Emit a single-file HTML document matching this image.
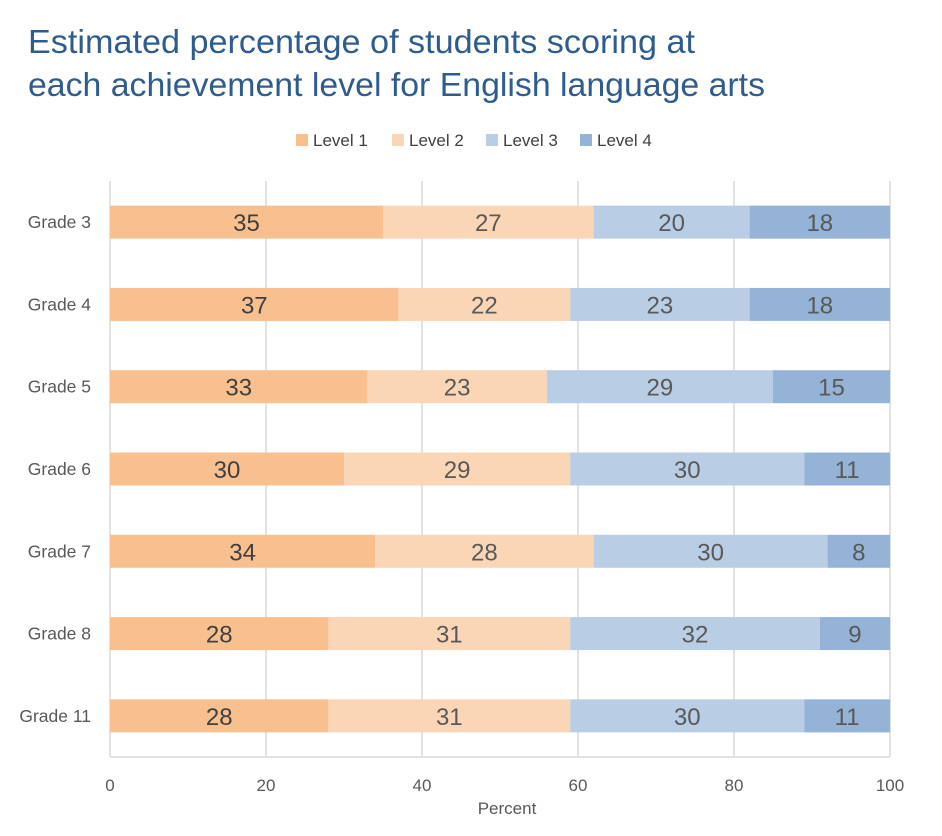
<!DOCTYPE html>
<html><head><meta charset="utf-8"><style>
body{margin:0;background:#fff;}
svg{display:block;font-family:"Liberation Sans",sans-serif;}
</style></head><body>
<svg id="chart" width="942" height="836">
<text x="28" y="53" font-size="33" fill="#2E5C8E" textLength="667" lengthAdjust="spacingAndGlyphs">Estimated percentage of students scoring at</text>
<text x="28" y="96" font-size="33" fill="#2E5C8E" textLength="737" lengthAdjust="spacingAndGlyphs">each achievement level for English language arts</text>
<g id="legend"></g>
<g id="grid"></g>
<g id="bars"></g>
<g id="labels"></g>
<text x="507" y="814" font-size="17" fill="#595959" text-anchor="middle">Percent</text>
</svg>
<script>
const categories = ["Grade 3","Grade 4","Grade 5","Grade 6","Grade 7","Grade 8","Grade 11"];
const level1 = [35,37,33,30,34,28,28];
const level2 = [27,22,23,29,28,31,31];
const level3 = [20,23,29,30,30,32,30];
const level4 = [18,18,15,11,8,9,11];
const seriesNames = ["Level 1","Level 2","Level 3","Level 4"];
const xTicks = [0,20,40,60,80,100];

const series=[level1,level2,level3,level4];
const colors=["#F9C08F","#FBD6B6","#B9CDE5","#95B3D7"];
const textColors=["#404040","#595959","#595959","#595959"];
const NS="http://www.w3.org/2000/svg";
const L=110,R=890,T=181,B=757;
const x=v=>L+(v/100)*(R-L);
const band=(B-T)/categories.length;
const yc=i=>T+band*(i+0.5);
function mk(tag,attrs,parent){const e=document.createElementNS(NS,tag);for(const k in attrs)e.setAttribute(k,attrs[k]);parent.appendChild(e);return e;}
const grid=document.getElementById('grid'),bars=document.getElementById('bars'),labels=document.getElementById('labels'),legend=document.getElementById('legend');
xTicks.forEach(t=>{
  const l=mk('line',{x1:x(t),x2:x(t),y1:T,y2:B,stroke:'#D9D9D9','stroke-width':1.5},grid);
  
  
  const tx=mk('text',{x:x(t),y:B+34,'font-size':17,fill:'#595959','text-anchor':'middle'},labels);
  tx.textContent=t;
  
  
});
const bl=mk('line',{x1:L,x2:R,y1:B,y2:B,stroke:'#D9D9D9','stroke-width':1.5},grid);


categories.forEach((c,i)=>{
  const ct=mk('text',{x:91,y:yc(i)+6,'font-size':17.5,fill:'#595959','text-anchor':'end'},labels);
  ct.textContent=c;
  
  
  let acc=0;
  series.forEach((s,j)=>{
    const v=s[i];
    const r=mk('rect',{x:x(acc),y:yc(i)-16.5,width:x(acc+v)-x(acc),height:33,fill:colors[j]},bars);
    
    
    const t=mk('text',{x:(x(acc)+x(acc+v))/2,y:yc(i)+9,'font-size':24,fill:textColors[j],'text-anchor':'middle'},labels);
    t.textContent=v;
    
    
    acc+=v;
  });
});
const lx=[296,392,486,580];
seriesNames.forEach((n,j)=>{
  const r=mk('rect',{x:lx[j],y:134,width:12,height:12,fill:colors[j]},legend);
  
  
  const t=mk('text',{x:lx[j]+17,y:146,'font-size':17,fill:'#404040'},legend);
  t.textContent=n;
  
  
});
</script>
</body></html>
